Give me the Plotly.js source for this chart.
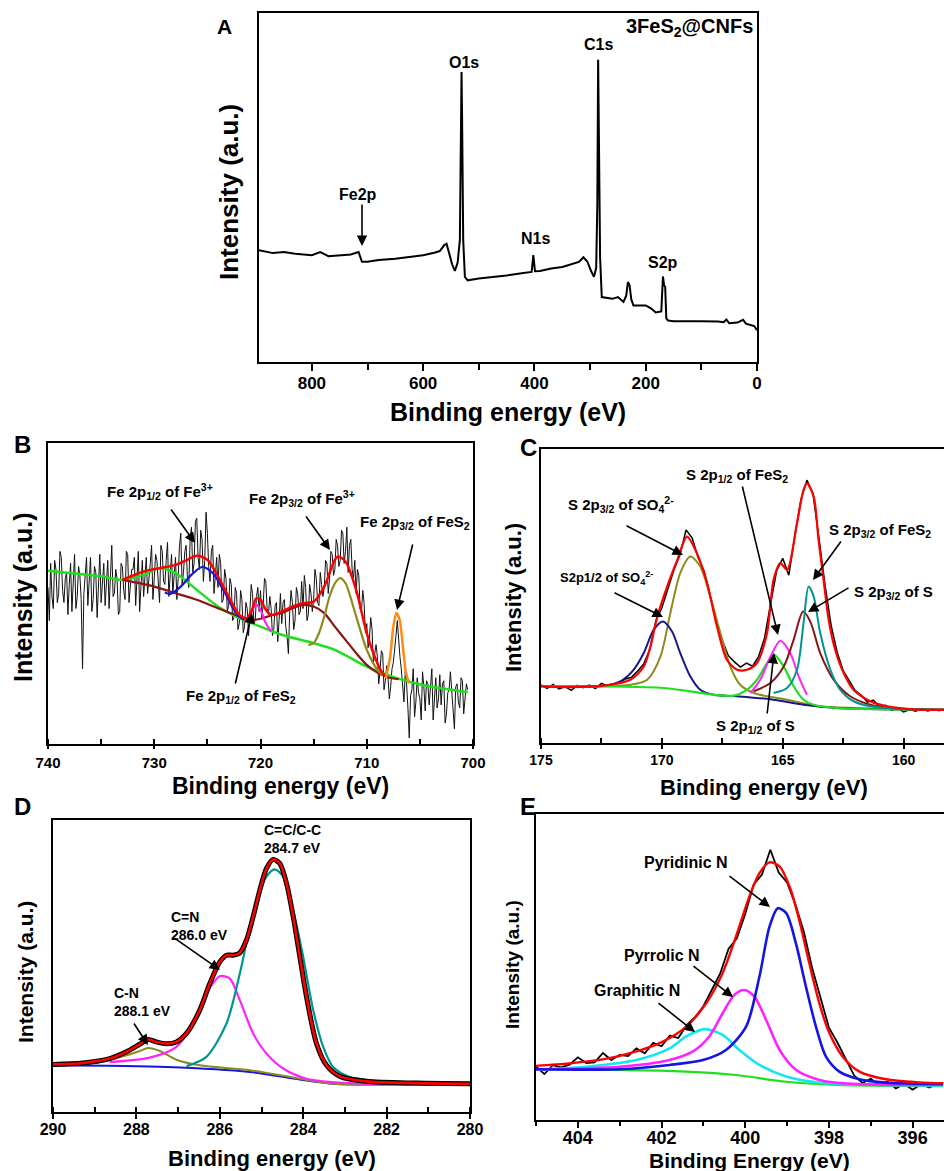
<!DOCTYPE html>
<html><head><meta charset="utf-8">
<script src="https://cdn.plot.ly/plotly-3.0.1.min.js"></script>
<style>html,body{margin:0;padding:0;background:#fff}#plot{width:944px;height:1171px}</style>
</head><body><div id="plot"></div>
<script>
// ---------- Panel A: survey ----------
const surveyE = [895,870,850,830,800,785,770,750,730,716,713,710,700,680,650,620,600,580,570,562,558,553,548,543,538,534,532,531,530,528,525,520,500,470,450,420,405,402,399,390,370,350,330,320,312,305,298,293,289,287,285.5,284,282,279,270,260,250,240,235,232,229,226,222,210,200,190,182,172,169,167,165,163,160,150,120,100,70,60,55,50,35,25,20,10,5,0];
const surveyI = [32.0,31.2,31.5,31.0,30.6,31.5,30.3,30.6,30.8,31.5,30.0,28.7,28.7,29.2,29.6,30.2,30.6,31.3,31.8,33.5,33.9,31.0,28.0,26.1,28.5,35.0,70.0,83.1,70.0,35.0,24.4,23.4,23.9,24.4,24.8,25.5,25.8,30.6,26.0,26.1,26.8,27.2,28.3,28.7,30.0,28.8,26.0,24.4,27.0,45.0,86.6,60.0,30.0,18.6,18.3,18.1,18.6,17.2,19.0,22.9,22.0,18.0,16.2,16.3,16.2,15.3,14.2,14.5,24.5,22.0,21.5,12.5,11.9,11.7,11.8,11.7,11.6,11.4,12.2,11.1,11.3,12.1,11.0,10.5,10.3,9.1];

// ---------- Panel B: Fe 2p ----------
const feE = [740,739.875,739.75,739.625,739.5,739.375,739.25,739.125,
739,738.875,738.75,738.625,738.5,738.375,738.25,738.125,
738,737.875,737.75,737.625,737.5,737.375,737.25,737.125,
737,736.875,736.75,736.625,736.5,736.375,736.25,736.125,
736,735.875,735.75,735.625,735.5,735.375,735.25,735.125,
735,734.875,734.75,734.625,734.5,734.375,734.25,734.125,
734,733.875,733.75,733.625,733.5,733.375,733.25,733.125,
733,732.875,732.75,732.625,732.5,732.375,732.25,732.125,
732,731.875,731.75,731.625,731.5,731.375,731.25,731.125,
731,730.875,730.75,730.625,730.5,730.375,730.25,730.125,
730,729.875,729.75,729.625,729.5,729.375,729.25,729.125,
729,728.875,728.75,728.625,728.5,728.375,728.25,728.125,
728,727.875,727.75,727.625,727.5,727.375,727.25,727.125,
727,726.875,726.75,726.625,726.5,726.375,726.25,726.125,
726,725.875,725.75,725.625,725.5,725.375,725.25,725.125,
725,724.875,724.75,724.625,724.5,724.375,724.25,724.125,
724,723.875,723.75,723.625,723.5,723.375,723.25,723.125,
723,722.875,722.75,722.625,722.5,722.375,722.25,722.125,
722,721.875,721.75,721.625,721.5,721.375,721.25,721.125,
721,720.875,720.75,720.625,720.5,720.375,720.25,720.125,
720,719.875,719.75,719.625,719.5,719.375,719.25,719.125,
719,718.875,718.75,718.625,718.5,718.375,718.25,718.125,
718,717.875,717.75,717.625,717.5,717.375,717.25,717.125,
717,716.875,716.75,716.625,716.5,716.375,716.25,716.125,
716,715.875,715.75,715.625,715.5,715.375,715.25,715.125,
715,714.875,714.75,714.625,714.5,714.375,714.25,714.125,
714,713.875,713.75,713.625,713.5,713.375,713.25,713.125,
713,712.875,712.75,712.625,712.5,712.375,712.25,712.125,
712,711.875,711.75,711.625,711.5,711.375,711.25,711.125,
711,710.875,710.75,710.625,710.5,710.375,710.25,710.125,
710,709.875,709.75,709.625,709.5,709.375,709.25,709.125,
709,708.875,708.75,708.625,708.5,708.375,708.25,708.125,
708,707.875,707.75,707.625,707.5,707.375,707.25,707.125,
707,706.875,706.75,706.625,706.5,706.375,706.25,706.125,
706,705.875,705.75,705.625,705.5,705.375,705.25,705.125,
705,704.875,704.75,704.625,704.5,704.375,704.25,704.125,
704,703.875,703.75,703.625,703.5,703.375,703.25,703.125,
703,702.875,702.75,702.625,702.5,702.375,702.25,702.125,
702,701.875,701.75,701.625,701.5,701.375,701.25,701.125,
701,700.875,700.75,700.625,700.5];
const feI = [52,41,60,49,45,61,58,47,
50,64,62,51,47,55,57,43,
53,60,44,56,63,45,49,59,
56,48,25,50,58,62,46,54,
62,44,48,59,57,42,51,63,
47,55,60,46,52,61,45,57,
66,49,50,58,55,43,44,60,
59,51,48,64,63,47,52,58,
58,62,46,55,64,44,53,61,
49,57,62,50,54,60,66,48,
55,63,61,52,47,66,64,54,
53,61,67,49,58,63,50,56,
62,48,55,66,70,53,57,64,
66,55,52,68,72,57,60,74,
75,62,58,71,68,54,61,77,
70,59,54,64,66,50,57,62,
52,63,60,47,48,58,55,44,
46,55,53,41,42,52,50,38,
40,51,48,37,39,47,45,36,
44,53,50,40,41,49,52,44,
51,42,46,55,54,45,43,49,
45,36,38,46,47,34,41,50,
40,47,48,39,36,30,44,51,
47,38,41,52,50,43,44,54,
45,56,52,41,43,53,50,44,
48,58,55,47,46,57,53,49,
52,61,60,50,55,64,63,56,
58,68,66,59,61,71,70,60,
64,72,57,66,68,58,55,61,
50,58,56,45,44,51,47,37,
40,32,35,42,38,27,30,33,
29,20,24,31,30,18,21,26,
22,15,19,25,27,33,36,41,
34,29,25,20,14,24,20,12,
2,16,18,25,9,14,22,17,
15,8,24,19,11,21,20,13,
19,25,8,16,22,12,15,23,
13,20,21,7,10,17,18,24,
17,11,5,19,20,14,12,22,
21,10,14,20,18];
const feBgE = [740,735,733,731,729.5,728,726,724,722,720,718,715,713,710,708,706,704,702,700.5];
const feBgI = [57.6,55.7,54.5,56.2,58.4,56.8,51.2,45.7,41.8,39.0,36.3,33.5,31.3,25.7,22.9,20.7,19.1,18.0,17.2];
const feSatE = [733,730,728,726,724,722,721,720,719,718,717,716,715,714,713,712,711,710,709,708,707];
const feSatI = [54.5,52.3,50.1,47.9,45.1,42.4,41.2,41.6,42.7,43.5,45.1,46.2,45.7,43.5,39.0,34.6,30.2,26.3,23.7,22.2,21.5];
const fe12E = [729,728.5,727.5,726.5,725.5,724.5,723.5,722.5,722,721.5];
const fe12I = [50.3,49.9,52.3,56.2,58.8,56.8,51.2,44.6,42.4,41.2];
const feFitE = [733,731,729.5,728,727,726,725,724,723,722,721.3,720.8,720.4,720,719.5,719,718,717,716,715,714,713.5,713,712.7,712,711,710,709,708.5,708];
const feFitI = [54.5,57.3,58.4,59.5,61.0,62.5,61.2,55.7,49.0,42.9,41.8,44.6,48.4,47.9,44.6,42.9,44.0,45.7,46.8,47.3,52.3,56.8,61.2,62.3,60.6,51.2,36.8,26.8,23.5,22.2];
const fe32E = [715.5,715,714.5,714,713.5,713,712.5,712,711,710,709,708.5];
const fe32I = [32.9,33.5,36.8,42.4,49.0,53.4,55.1,53.4,42.4,31.3,24.6,22.9];
const feS12E = [721.5,721,720.7,720.4,720,719.5,719];
const feS12I = [40.7,42.4,45.1,46.2,44.6,40.1,37.4];
const feS32E = [708.2,707.8,707.5,707.2,706.9,706.6,706.3,706];
const feS32I = [21.8,29.0,39.0,43.5,41.2,32.4,23.5,20.2];

// ---------- Panel C: S 2p ----------
const sE = [175,174.75,174.5,174.25,174,173.75,173.5,173.25,173,172.75,172.5,172.25,172,171.75,171.5,171.25,171,170.75,170.5,170.25,170,169.75,169.5,169.25,169,168.75,168.5,168.25,168,167.75,167.5,167.25,167,166.75,166.5,166.25,166,165.75,165.5,165.25,165,164.75,164.5,164.25,164,163.75,163.5,163.25,163,162.75,162.5,162.25,162,161.75,161.5,161.25,161,160.75,160.5,160.25,160,159.75,159.5,159.25,159,158.75,158.5];
const sI = [19.8,18.6,19.9,18.4,19.2,17.9,19.6,18.8,19.7,18.5,20.3,19.4,20.1,20.6,21.8,22.4,24.5,26.9,31.8,41.5,46.0,52.8,58.9,64.0,72.5,69.8,63.1,58.4,50.2,41.6,34.9,29.7,27.6,25.8,27.2,26.1,29.4,35.8,47.5,58.6,62.8,57.1,70.4,82.7,89.4,84.9,69.5,53.6,40.1,30.9,24.6,21.0,17.8,16.2,13.9,14.6,12.3,12.8,11.2,11.9,10.6,11.4,10.8,11.7,10.9,11.5,11.0];
const sFitE = [175,173.8,172.4,171.3,170.75,170.48,170.2,169.79,169.37,168.96,168.55,168.13,167.72,167.31,166.89,166.48,166.07,165.65,165.38,165.1,164.82,164.41,164.14,164.0,163.72,163.52,163.31,163.1,162.83,162.48,162.07,161.38,160.69,159.31,158.32];
const sFitI = [19.3,19.0,19.5,21.5,26.0,32.6,42.6,53.0,62.1,70.2,64.5,54.4,39.6,28.3,24.9,24.9,27.2,37.4,55.5,61.2,58.9,74.8,86.1,88.3,83.8,69.1,55.5,41.9,31.7,23.8,18.1,14.2,12.5,11.3,11.3];
const so4_12E = [175,172.41,171.72,171.17,170.75,170.34,169.95,169.58,169.24,168.82,168.41,167.86,166.89,165.51,164.14,162.76,158.32];
const so4_12I = [19.3,19.5,21.0,24.9,30.6,38.5,41.3,37.9,30.6,22.6,18.1,16.4,15.9,14.9,13.0,11.9,11.3];
const so4_32E = [175,172.41,171.3,170.61,170.06,169.65,169.24,168.82,168.41,168.0,167.58,167.17,166.76,166.2,164.82,163.45,162.07,158.32];
const so4_32I = [19.3,19.3,19.8,21.5,29.4,44.2,57.8,63.4,60.0,49.8,37.4,26.0,19.8,17.0,14.7,12.5,11.9,11.3];
const fes2_12E = [166.34,165.93,165.51,165.1,164.69,164.34,164.0];
const fes2_12I = [17.0,21.5,29.4,34.8,30.6,22.6,16.4];
const s0_12E = [175,169.93,167.86,167.03,166.48,166.07,165.65,165.35,164.96,164.55,164.14,163.72,162.76,158.32];
const s0_12I = [19.3,18.7,16.4,16.1,18.1,21.5,27.2,30.0,26.0,19.3,14.7,13.0,11.9,11.3];
const fes2_32E = [165.38,164.82,164.41,164.14,163.93,163.72,163.45,163.03,162.62,162.07,161.38,160.0,158.32];
const fes2_32I = [17.0,18.7,24.9,40.8,53.2,49.8,37.4,24.9,18.1,14.2,12.5,11.6,11.3];
const s0_32E = [166.2,165.51,164.96,164.55,164.16,163.86,163.45,162.89,162.21,161.38,160.69,158.32];
const s0_32I = [17.6,20.4,26.0,35.1,44.7,41.3,30.6,21.5,15.9,13.0,11.9,11.3];

// ---------- Panel D: C 1s ----------
const cE = [290,289.28,288.64,288.24,287.92,287.72,287.52,287.28,287.04,286.8,286.48,286.24,286.0,285.84,285.68,285.52,285.36,285.2,285.04,284.88,284.72,284.56,284.4,284.24,284.08,283.92,283.68,283.44,283.12,282.48,281.28,280];
const cI = [16.3,16.8,18.3,20.6,23.2,24.8,24.0,23.4,24.0,26.9,34.9,44.0,51.4,53.7,53.7,54.5,58.9,66.9,76.0,83.4,86.5,85.1,78.3,66.9,53.1,39.4,23.4,16.0,12.2,10.5,9.9,9.7];
const ccE = [286.8,286.32,285.84,285.52,285.2,284.88,284.68,284.48,284.24,284.0,283.76,283.52,283.28,282.88,282.08,280];
const ccI = [15.7,18.9,30.3,47.4,68.0,80.6,83.1,80.6,69.1,53.1,34.9,22.3,15.4,12.0,10.3,9.7];
const cnE = [288.64,287.68,287.04,286.64,286.32,286.0,285.76,285.52,285.2,284.88,284.48,283.92,282.88,280];
const cnI = [17.1,18.6,22.3,30.3,40.6,46.5,45.7,38.3,26.9,20.0,14.9,11.4,9.9,9.7];
const cN1E = [290,288.88,288.24,287.92,287.72,287.44,287.04,286.48,285.28,284.08,283.28,280];
const cN1I = [16.0,17.1,19.4,20.9,21.9,20.9,17.9,16.0,14.3,11.4,9.7,9.7];
const cBgE = [290,287.28,285.28,284.08,283.28,280];
const cBgI = [16.0,15.4,13.7,11.1,9.7,9.5];

// ---------- Panel E: N 1s ----------
const nE = [405,404.8,404.6,404.4,404.2,404,403.8,403.6,403.4,403.2,403,402.8,402.6,402.4,402.2,402,401.8,401.6,401.4,401.2,401,400.8,400.6,400.4,400.2,400,399.8,399.6,399.4,399.2,399,398.8,398.6,398.4,398.2,398,397.8,397.6,397.4,397.2,397,396.8,396.6,396.4,396.2,396,395.8,395.6,395.4];
const nI = [17.5,15.0,17.9,17.2,18.1,20.5,18.6,18.8,21.9,19.6,21.3,20.9,23.4,21.8,25.2,24.1,27.6,26.8,31.0,33.6,37.2,42.5,47.8,55.9,59.4,67.3,76.9,80.2,88.3,80.9,77.6,70.4,61.5,49.7,39.5,30.2,25.4,20.1,14.6,12.1,13.5,11.4,12.6,10.3,11.8,9.9,11.7,10.6,11.9];
const nFitE = [405,404.2,403.4,402.6,401.97,401.41,400.93,400.54,400.22,399.9,399.66,399.42,399.18,398.94,398.71,398.47,398.23,397.99,397.67,397.27,396.64,395.84,395.27];
const nFitI = [17.7,18.5,19.8,22.4,25.6,30.5,38.2,48.0,60.0,73.1,80.7,84.2,82.9,76.3,65.4,51.3,38.2,28.4,20.7,15.8,13.3,12.3,12.0];
const pyrdE = [405,403.0,401.81,401.01,400.46,399.98,399.66,399.42,399.22,399.02,398.79,398.55,398.31,398.07,397.75,397.27,396.64,395.27];
const pyrdI = [16.6,16.6,18.0,19.6,22.9,30.5,46.9,63.2,69.2,67.6,57.8,43.6,30.5,20.7,15.8,13.3,12.2,11.8];
const pyrlE = [405,403.0,401.81,401.25,400.86,400.54,400.26,400.02,399.78,399.5,399.18,398.79,398.23,397.43,395.27];
const pyrlI = [16.6,17.4,19.6,22.4,27.3,34.9,40.9,42.5,40.3,32.7,22.9,16.4,13.1,11.8,11.5];
const graphE = [405,403.8,402.6,401.81,401.41,400.97,400.54,400.14,399.66,399.02,398.23,397.03,395.27];
const graphI = [16.4,17.4,19.6,23.4,27.3,29.7,27.8,22.9,18.0,14.2,12.2,11.5,11.3];
const nBgE = [405,403.0,401.41,400.22,399.02,397.83,395.27];
const nBgI = [16.6,16.4,15.8,14.7,12.5,11.5,11.1];

// ---------- build ----------
const W = 944, H = 1171;
const PX = x => x / W, PY = y => 1 - y / H;
const FAM = 'Liberation Sans, Arial, Helvetica, sans-serif';
const RED = '#ff0000', GREEN = '#1fe01f', BLUE = '#1414e6', NAVY = '#18188c', OLIVE = '#8c8c1e',
      BROWN = '#8c1414', PINK = '#ff22ff', TEAL = '#00958f', CYAN = '#16e6f0', ORANGE = '#ff8a14';

function tr(x, y, ax, color, width, shape) {
  return {x: x, y: y, xaxis: 'x' + ax, yaxis: 'y' + ax, type: 'scatter', mode: 'lines',
          line: {color: color, width: width, shape: shape || 'spline', smoothing: 0.8},
          hoverinfo: 'skip', showlegend: false};
}
const data = [
  tr(surveyE, surveyI, '', '#000', 2, 'linear'),
  tr(feE, feI, '2', '#111', 1, 'linear'),
  tr(feBgE, feBgI, '2', GREEN, 2.5),
  tr(feSatE, feSatI, '2', BROWN, 2.2),
  tr(fe12E, fe12I, '2', BLUE, 2.2),
  tr(fe32E, fe32I, '2', OLIVE, 2.2),
  tr(feS12E, feS12I, '2', PINK, 2.2),
  tr(feFitE, feFitI, '2', RED, 2.5),
  tr(feS32E, feS32I, '2', ORANGE, 2.5),
  tr(sE, sI, '3', '#000', 1.5, 'linear'),
  tr(so4_32E, so4_32I, '3', OLIVE, 2),
  tr(so4_12E, so4_12I, '3', NAVY, 2),
  tr(s0_12E, s0_12I, '3', GREEN, 2.2),
  tr(fes2_12E, fes2_12I, '3', PINK, 2),
  tr(s0_32E, s0_32I, '3', BROWN, 2),
  tr(fes2_32E, fes2_32I, '3', TEAL, 2),
  tr(sFitE, sFitI, '3', RED, 2.2),
  tr(cBgE, cBgI, '4', BLUE, 2),
  tr(cN1E, cN1I, '4', OLIVE, 2),
  tr(cnE, cnI, '4', PINK, 2.2),
  tr(ccE, ccI, '4', TEAL, 2.2),
  tr(cE, cI, '4', '#000', 5),
  tr(cE, cI, '4', RED, 2.6),
  tr(nE, nI, '5', '#000', 1.8, 'linear'),
  tr(nBgE, nBgI, '5', GREEN, 2.2),
  tr(graphE, graphI, '5', CYAN, 2.6),
  tr(pyrlE, pyrlI, '5', PINK, 2.6),
  tr(pyrdE, pyrdI, '5', BLUE, 2.6),
  tr(nFitE, nFitI, '5', RED, 2.4)
];

function xax(dom, range, dtick, tsize, mirror, majorT, majorL, minorT, minorL, stand) {
  return {domain: [PX(dom[0]), dom[1] >= W ? 1 : PX(dom[1])], range: range, dtick: dtick, tick0: 0,
    showline: true, linewidth: 2, linecolor: '#000', mirror: mirror, showgrid: false, zeroline: false,
    ticks: majorT, ticklen: majorL, tickwidth: 2, tickcolor: '#000',
    minor: {dtick: dtick / 2, tick0: 0, ticks: minorT, ticklen: minorL, tickwidth: 2, tickcolor: '#000', showgrid: false},
    tickfont: {family: FAM, size: tsize, color: '#000', weight: 'bold'}, ticklabelstandoff: stand,
    fixedrange: true};
}
function yax(top, bot, mirror) {
  return {domain: [PY(bot), PY(top)], range: [0, 100], showline: true, linewidth: 2, linecolor: '#000',
    mirror: mirror, showgrid: false, zeroline: false, ticks: '', showticklabels: false, fixedrange: true};
}

const layout = {
  width: W, height: H, margin: {l: 0, r: 0, t: 0, b: 0}, paper_bgcolor: '#fff', plot_bgcolor: '#fff',
  showlegend: false,
  xaxis:  Object.assign(xax([259, 757], [895, 0], 200, 17, true, 'outside', 7, 'outside', 6, -2), {anchor: 'y'}),
  yaxis:  Object.assign(yax(13, 362, true), {anchor: 'x'}),
  xaxis2: Object.assign(xax([48, 473], [740, 700], 10, 15, true, 'outside', 3, 'inside', 5, 1), {anchor: 'y2'}),
  yaxis2: Object.assign(yax(443, 744, true), {anchor: 'x2'}),
  xaxis3: Object.assign(xax([541, 944], [175, 158.33], 5, 14, true, 'outside', 4, 'inside', 5, -1), {anchor: 'y3'}),
  yaxis3: Object.assign(yax(449, 743, false), {anchor: 'x3'}),
  xaxis4: Object.assign(xax([53, 470], [290, 280], 2, 16, true, 'outside', 5, 'inside', 5, -3), {anchor: 'y4'}),
  yaxis4: Object.assign(yax(820, 1112, true), {anchor: 'x4'}),
  xaxis5: Object.assign(xax([536, 944], [405.0, 395.25], 2, 18, true, 'outside', 6, 'outside', 4, -6), {anchor: 'y5'}),
  yaxis5: Object.assign(yax(814, 1120, false), {anchor: 'x5'}),
  annotations: []
};

function txt(text, x, y, size, opts) {
  const o = Object.assign({text: text, x: PX(x), y: PY(y), xref: 'paper', yref: 'paper', showarrow: false,
    xanchor: 'center', yanchor: 'middle', font: {family: FAM, size: size, color: '#000', weight: 'bold'}}, opts || {});
  layout.annotations.push(o);
}
function arrow(tipX, tipY, tailX, tailY) {
  layout.annotations.push({text: '', x: PX(tipX), y: PY(tipY), xref: 'paper', yref: 'paper', showarrow: true,
    ax: tailX - tipX, ay: tailY - tipY, arrowhead: 2, arrowsize: 1.3, arrowwidth: 1.6, arrowcolor: '#000', standoff: 0});
}

// panel letters
txt('A', 224, 26, 21); txt('B', 22, 444, 24); txt('C', 528, 448, 24); txt('D', 22, 807, 24); txt('E', 528, 807, 24);

// axis titles
txt('Binding energy (eV)', 508, 412, 25);
txt('Intensity (a.u.)', 229, 192, 26, {textangle: -90});
txt('Binding energy (eV)', 280, 786, 23);
txt('Intensity (a.u.)', 23, 598, 25, {textangle: -90});
txt('Binding energy (eV)', 764, 787, 22);
txt('Intensity (a.u.)', 513, 598, 22, {textangle: -90});
txt('Binding energy (eV)', 272, 1158, 22);
txt('Intensity (a.u.)', 25, 972, 21, {textangle: -90});
txt('Binding Energy (eV)', 749, 1160, 21);
txt('Intensity (a.u.)', 512, 965, 19, {textangle: -90});

// panel A labels
txt('3FeS<sub>2</sub>@CNFs', 755, 27, 20, {xanchor: 'right'});
txt('C1s', 598, 45, 16); txt('O1s', 464, 63, 16); txt('Fe2p', 358, 195, 16);
txt('N1s', 535, 238, 16); txt('S2p', 663, 262, 16);
arrow(362, 246, 362, 203);

// panel B labels
txt('Fe 2p<sub>1/2</sub> of Fe<sup>3+</sup>', 160, 491, 15);
txt('Fe 2p<sub>3/2</sub> of Fe<sup>3+</sup>', 302, 499, 15);
txt('Fe 2p<sub>3/2</sub> of FeS<sub>2</sub>', 472, 522, 15, {xanchor: 'right'});
txt('Fe 2p<sub>1/2</sub> of FeS<sub>2</sub>', 241, 696, 15);
arrow(195, 543, 170, 508); arrow(330, 550, 305, 515); arrow(397, 610, 413, 543); arrow(252, 613, 235, 685);

// panel C labels
txt('S 2p<sub>1/2</sub> of FeS<sub>2</sub>', 737, 475, 15);
txt('S 2p<sub>3/2</sub> of SO<sub>4</sub><sup>2-</sup>', 621, 504, 15);
txt('S2p1/2 of SO<sub>4</sub><sup>2-</sup>', 606, 578, 13);
txt('S 2p<sub>3/2</sub> of FeS<sub>2</sub>', 827, 530, 15, {xanchor: 'left'});
txt('S 2p<sub>3/2</sub> of S', 852, 592, 15, {xanchor: 'left'});
txt('S 2p<sub>1/2</sub> of S', 755, 726, 15);
arrow(778, 635, 742, 485); arrow(683, 555, 625, 525); arrow(663, 617, 613, 592);
arrow(813, 580, 842, 540); arrow(808, 612, 850, 587); arrow(774, 653, 767, 715);

// panel D labels
txt('C=C/C-C<br>284.7 eV', 262, 839, 14, {xanchor: 'left', align: 'left'});
txt('C=N<br>286.0 eV', 169, 926, 14, {xanchor: 'left', align: 'left'});
txt('C-N<br>288.1 eV', 112, 1002, 14, {xanchor: 'left', align: 'left'});
arrow(220, 970, 173, 937); arrow(148, 1045, 133, 1022);

// panel E labels
txt('Pyridinic N', 686, 862, 16); txt('Pyrrolic N', 662, 955, 16); txt('Graphitic N', 637, 990, 16);
arrow(770, 907, 728, 875); arrow(733, 997, 692, 965); arrow(695, 1032, 657, 1002);

Plotly.newPlot('plot', data, layout, {displayModeBar: false, staticPlot: true});
</script></body></html>
